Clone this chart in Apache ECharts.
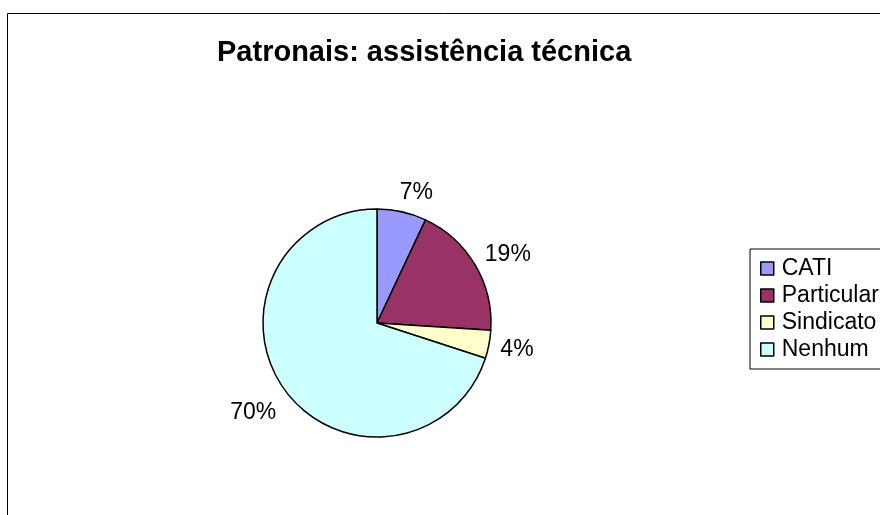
<!DOCTYPE html>
<html>
<head>
<meta charset="utf-8">
<script src="https://cdn.jsdelivr.net/npm/echarts@6/dist/echarts.min.js"></script>
<style>
    html, body { margin: 0; padding: 0; background: #fff; }
    #chart { width: 880px; height: 515px; }
</style>
</head>
<body>
<div id="chart"></div>
<script>
var categories = ['CATI', 'Particular', 'Sindicato', 'Nenhum'];
var values = [7, 19, 4, 70];
var colors = ['#9999FF', '#993366', '#FFFFCC', '#CCFFFF'];
// small per-label nudges (px) so the labels sit where Excel put them
var labelNudge = [[9, 5], [2, 8], [0, 0], [-3, 2]];

var chart = echarts.init(document.getElementById('chart'));

var pieData = [];
for (var i = 0; i < categories.length; i++) {
    pieData.push({
        name: categories[i],
        value: values[i],
        itemStyle: { color: colors[i] }
    });
}

// put each label centred just outside its slice
function placeLabel(params) {
    var pts = params.labelLinePoints;
    if (!pts) {
        return {};
    }
    var dx = pts[1][0] - pts[0][0];
    var dy = pts[1][1] - pts[0][1];
    var len = Math.sqrt(dx * dx + dy * dy) || 1;
    dx /= len;
    dy /= len;
    var w = params.labelRect.width;
    var h = params.labelRect.height;
    var extent = Math.abs(dx) * w / 2 + Math.abs(dy) * h / 2;
    var dist = 10 + extent;
    var nudge = labelNudge[params.dataIndex] || [0, 0];
    return {
        x: pts[0][0] + dx * dist + nudge[0],
        y: pts[0][1] + dy * dist + nudge[1],
        align: 'center',
        verticalAlign: 'middle'
    };
}

chart.setOption({
    animation: false,
    backgroundColor: '#ffffff',
    title: {
        text: 'Patronais: assistência técnica',
        left: 217,
        top: 38,
        padding: 0,
        textStyle: {
            fontFamily: 'Liberation Sans, Arial, sans-serif',
            fontSize: 29,
            fontWeight: 'bold',
            color: '#000'
        }
    },
    legend: {
        orient: 'vertical',
        left: 750,
        top: 249,
        padding: [8, 40, 8, 10],
        borderColor: '#000',
        borderWidth: 1,
        itemWidth: 13,
        itemHeight: 13,
        itemGap: 4,
        icon: 'rect',
        data: categories,
        itemStyle: {
            borderColor: '#000',
            borderWidth: 1.5
        },
        textStyle: {
            fontFamily: 'Liberation Sans, Arial, sans-serif',
            fontSize: 23,
            color: '#000',
            padding: [0, 0, 0, 3]
        }
    },
    graphic: [
        {
            type: 'rect',
            shape: { x: 7.5, y: 13.5, width: 900, height: 540 },
            style: { fill: 'none', stroke: '#000', lineWidth: 1 },
            z: -1
        }
    ],
    series: [
        {
            type: 'pie',
            center: [377, 323],
            radius: 114,
            startAngle: 90,
            clockwise: true,
            avoidLabelOverlap: false,
            itemStyle: {
                borderColor: '#000',
                borderWidth: 1.5
            },
            label: {
                show: true,
                position: 'outside',
                formatter: '{c}%',
                fontFamily: 'Liberation Sans, Arial, sans-serif',
                fontSize: 23,
                color: '#000'
            },
            labelLine: {
                show: true,
                length: 5,
                length2: 0,
                lineStyle: { opacity: 0 }
            },
            labelLayout: placeLabel,
            emphasis: { disabled: true },
            data: pieData
        }
    ]
});
</script>
</body>
</html>
